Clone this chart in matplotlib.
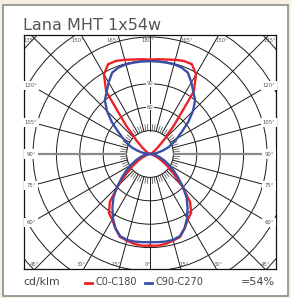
import numpy as np
import matplotlib.pyplot as plt
from matplotlib.patches import Rectangle, Circle
from matplotlib.lines import Line2D

# luminous intensity (cd/klm) per gamma angle, 0 = nadir, 180 = zenith
gamma = np.arange(0, 181, 5)
c0_c180 = [117.5, 118, 117, 115, 113, 105, 97, 92, 80, 58, 40, 28, 18, 11, 6, 3, 2, 1, 0,
           0, 1, 1, 2, 3, 4, 7, 13, 25, 48, 98, 118, 127, 127, 125, 123, 122, 121]
c90_c270 = [113, 113.5, 114, 114, 112, 105, 95, 84, 73, 60, 47, 37, 28, 21, 15, 10, 6, 3, 0,
            5, 10, 17, 25, 32, 40, 50, 64, 78, 90, 97, 106, 115, 118, 119, 119, 119, 119]
series_names = ['C0-C180', 'C90-C270']
series_colors = ['#ec2227', '#3a4fa6']

ring_values = [30, 60, 90, 120, 150, 180, 210]
ring_labels = [60, 90]
title = 'Lana MHT 1x54w'
unit = 'cd/klm'
efficiency = '=54%'

W, H = 291, 298
PX = 0.78  # pixels per cd/klm
CX, CY = 150, 154  # pole position in pixels
BOX = (24, 35, 276, 269)  # left, top, right, bottom in pixels


def fx(px):
    return px / W


def fy(py):
    return 1 - py / H


def polar(g, r, side):
    g = np.radians(g)
    return side * np.asarray(r) * np.sin(g), -np.asarray(r) * np.cos(g)


fig = plt.figure(figsize=(W / 100, H / 100), dpi=100)
fig.patch.set_facecolor('#f8efe3')
fig.patches.append(Rectangle((fx(3), fy(296)), fx(288) - fx(3), fy(5) - fy(296),
                             transform=fig.transFigure, facecolor='white',
                             edgecolor='#8c8c8c', lw=1.2, zorder=-5))

ax = fig.add_axes([fx(BOX[0]), fy(BOX[3]), fx(BOX[2]) - fx(BOX[0]), fy(BOX[1]) - fy(BOX[3])])
ax.set_zorder(2)
ax.set_facecolor('white')
xmax = (BOX[2] - CX) / PX
xmin = (BOX[0] - CX) / PX
ytop = (CY - BOX[1]) / PX
ybot = (CY - BOX[3]) / PX
ax.set_xlim(xmin, xmax)
ax.set_ylim(ybot, ytop)
ax.set_xticks([])
ax.set_yticks([])
for s in ax.spines.values():
    s.set_linewidth(0.9)
    s.set_color('#111111')

# grid
for r in ring_values:
    ax.add_patch(Circle((0, 0), r, fill=False, lw=0.7, ec='#1a1a1a', zorder=1))
for a in range(0, 360, 15):
    x, y = polar(a, np.array([ring_values[0], 400]), 1)
    if a in (90, 270):
        ax.plot(x, y, color='#8a8a8a', lw=1.6, zorder=1, solid_capstyle='butt')
    else:
        ax.plot(x, y, color='#1a1a1a', lw=0.7, zorder=1)
for a in range(0, 360, 5):
    if a % 15:
        x, y = polar(a, np.array([ring_values[0], 38]), 1)
        ax.plot(x, y, color='#333333', lw=0.45, zorder=1)

lab = dict(fontsize=3.8, color='#555555', zorder=3)
box_kw = dict(boxstyle='square,pad=0.15', fc='white', ec='none')
for v in ring_labels:
    ax.text(0, v, str(v), ha='center', va='center', bbox=box_kw, **lab)

# angle labels along the frame
for side in (-1, 1):
    ha = 'right' if side < 0 else 'left'
    for a in (135, 150, 165):
        y = ytop - 5.5 / PX
        x = side * y * np.tan(np.radians(180 - a))
        ax.text(x, y, f'{a}°', ha=ha, va='center', **lab)
    for a in (15, 30, 45):
        y = ybot + 4.5 / PX
        x = side * -y * np.tan(np.radians(a))
        ax.text(x, y, f'{a}°', ha=ha, va='center', **lab)
    for a in (60, 75, 90, 105, 120):
        X = (CX - BOX[0] - 7) / PX
        y = -X * np.cos(np.radians(a)) / np.sin(np.radians(a))
        ax.text(side * X, y, f'{a}°', ha='center', va='center',
                bbox=dict(boxstyle='square,pad=0.4', fc='white', ec='none'), **lab)
ax.text(-2 / PX, ytop - 5.5 / PX, '180°', ha='center', va='center', **lab)
ax.text(-2 / PX, ybot + 4.5 / PX, '0°', ha='center', va='center', **lab)

# intensity curves
for vals, color in zip([c0_c180, c90_c270], series_colors):
    xr, yr = polar(gamma, vals, 1)
    xl, yl = polar(gamma[::-1], vals[::-1], -1)
    ax.plot(np.r_[xr, xl], np.r_[yr, yl], color=color, lw=1.7, zorder=4,
            solid_joinstyle='miter')

# texts
fig.text(fx(23), fy(30), title, fontsize=11.5, color='#555555', va='baseline')
fig.text(fx(23), fy(282), unit, fontsize=7.8, color='#444444', va='center')
for name, color, x0 in zip(series_names, series_colors, (85, 145)):
    fig.add_artist(Line2D([fx(x0), fx(x0 + 7)], [fy(282.5), fy(282.5)], color=color,
                          lw=2, transform=fig.transFigure))
    fig.text(fx(x0 + 10), fy(282), name, fontsize=7, color='#444444', va='center')
fig.text(fx(275), fy(282), efficiency, fontsize=8, color='#444444', va='center', ha='right')

fig.savefig('out.png', dpi=100, facecolor=fig.get_facecolor())
